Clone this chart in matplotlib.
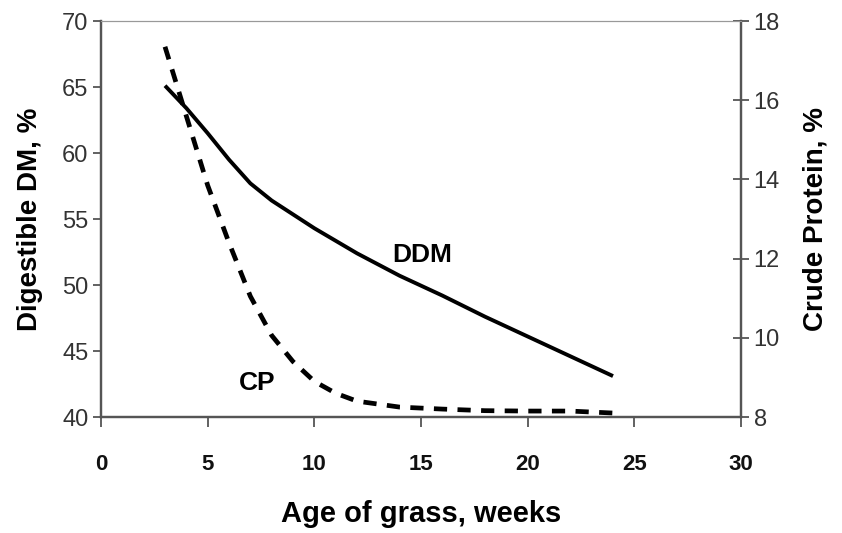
import matplotlib
matplotlib.use("Agg")
import matplotlib.pyplot as plt

# digestible dry matter (left axis) vs age of grass
ddm_weeks = [3, 4, 5, 6, 7, 8, 10, 12, 14, 16, 18, 20, 22, 24]
ddm_pct = [65.1, 63.4, 61.5, 59.5, 57.7, 56.4, 54.3, 52.4, 50.7, 49.2, 47.6, 46.1, 44.6, 43.1]

# crude protein (right axis)
cp_weeks = [3, 4, 5, 6, 7, 8, 9, 10, 11, 12, 14, 16, 18, 20, 22, 24]
cp_pct = [17.35, 15.6, 13.85, 12.4, 11.05, 10.06, 9.4, 8.9, 8.6, 8.4, 8.25, 8.2, 8.16, 8.15, 8.15, 8.1]

x_ticks = [0, 5, 10, 15, 20, 25, 30]
left_ticks = [40, 45, 50, 55, 60, 65, 70]
right_ticks = [8, 10, 12, 14, 16, 18]

sans = ["Liberation Sans", "DejaVu Sans"]
spine_col = "#555555"
tick_col = "#333333"

fig = plt.figure(figsize=(8.42, 5.33), dpi=100)
ax = fig.add_axes([101 / 842, 1 - 417 / 533, 640 / 842, 396 / 533])
ax2 = ax.twinx()

ax.plot(ddm_weeks, ddm_pct, color="black", lw=2.8, solid_capstyle="butt")
ax2.plot(cp_weeks, cp_pct, color="black", lw=3.4, dashes=(2.8, 2.2))

ax.set_xlim(0, 30)
ax.set_ylim(40, 70)
ax2.set_ylim(8, 18)
ax.set_xticks(x_ticks)
ax.set_yticks(left_ticks)
ax2.set_yticks(right_ticks)

for s in ["left", "bottom", "right"]:
    ax.spines[s].set_color(spine_col)
    ax2.spines[s].set_color(spine_col)
    ax.spines[s].set_linewidth(1.6)
    ax2.spines[s].set_linewidth(1.6)
ax.spines["top"].set_color("#999999")
ax2.spines["top"].set_color("#999999")

ax.tick_params(axis="x", direction="out", length=7, width=1.3, color=spine_col, pad=20)
ax.tick_params(axis="y", direction="out", length=6, width=1.3, color=spine_col, pad=3)
ax2.tick_params(axis="y", direction="inout", length=12, width=1.3, color=spine_col, pad=3)

for lab in ax.get_xticklabels():
    lab.set_fontfamily(sans)
    lab.set_fontsize(16)
    lab.set_fontweight("bold")
    lab.set_color("#111111")
for lab in ax.get_yticklabels() + ax2.get_yticklabels():
    lab.set_fontfamily(sans)
    lab.set_fontsize(17)
    lab.set_color(tick_col)

ax.set_xlabel("Age of grass, weeks", fontsize=21, fontweight="bold",
              family=sans, labelpad=18)
ax.set_ylabel("Digestible DM, %", fontsize=20, fontweight="bold",
              family=sans, labelpad=14)
ax2.set_ylabel("Crude Protein, %", fontsize=20, fontweight="bold",
               family=sans, labelpad=16)

ax.text(15.05, 52.3, "DDM", fontsize=19, fontweight="bold", family=sans,
        ha="center", va="center")
ax.text(7.3, 42.55, "CP", fontsize=19, fontweight="bold", family=sans,
        ha="center", va="center")

fig.savefig("out.png", dpi=100)
